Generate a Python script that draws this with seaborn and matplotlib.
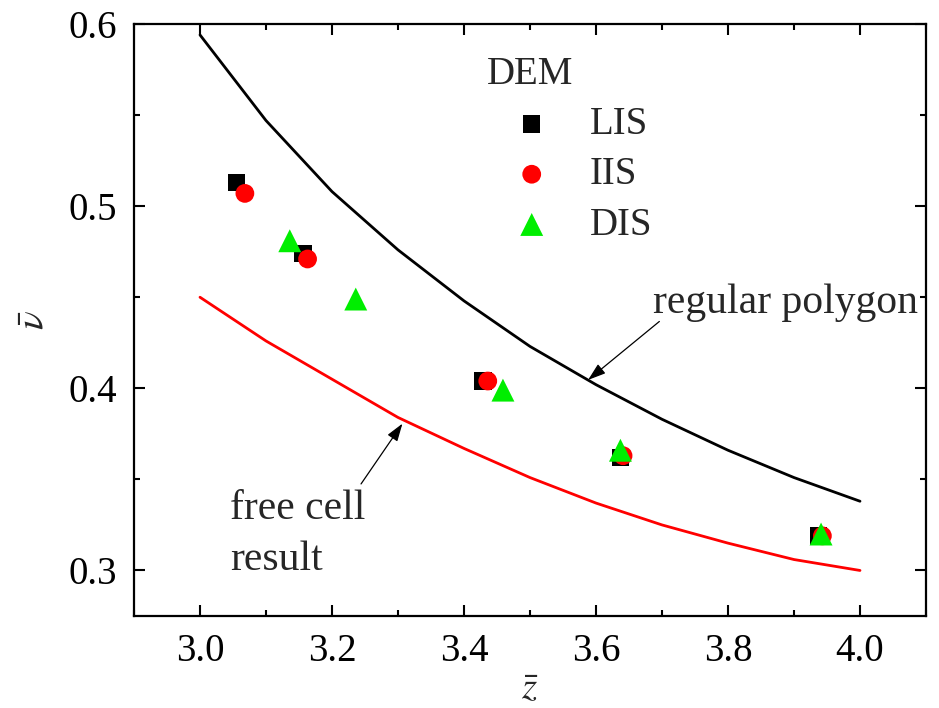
import matplotlib
matplotlib.use("Agg")
import matplotlib.pyplot as plt
from matplotlib.ticker import MultipleLocator
import numpy as np
import pandas as pd
import seaborn as sns

# ---- data ----
z_curve = [3.0, 3.1, 3.2, 3.3, 3.4, 3.5, 3.6, 3.7, 3.8, 3.9, 4.0]
nu_regular = [0.594, 0.547, 0.508, 0.476, 0.448, 0.423, 0.402, 0.383, 0.366, 0.351, 0.338]
nu_free = [0.450, 0.426, 0.405, 0.384, 0.367, 0.351, 0.337, 0.325, 0.315, 0.306, 0.300]

lis_z = [3.055, 3.156, 3.429, 3.637, 3.937]
lis_nu = [0.513, 0.474, 0.404, 0.362, 0.319]
iis_z = [3.068, 3.163, 3.436, 3.641, 3.943]
iis_nu = [0.507, 0.471, 0.404, 0.363, 0.319]
dis_z = [3.136, 3.236, 3.459, 3.637, 3.941]
dis_nu = [0.481, 0.449, 0.399, 0.366, 0.320]

x_ticks = [3.0, 3.2, 3.4, 3.6, 3.8, 4.0]
y_ticks = [0.3, 0.4, 0.5, 0.6]

# ---- style ----
sns.set_theme(style="ticks")
plt.rcParams["font.family"] = ["Liberation Serif", "DejaVu Serif"]
plt.rcParams["mathtext.fontset"] = "stix"
FS = 28

fig = plt.figure(figsize=(9.39, 7.08), dpi=100)
ax = fig.add_axes([134 / 939, 1 - 616 / 708, (926 - 134) / 939, (616 - 24) / 708])

curves = pd.DataFrame({"z": z_curve, "regular": nu_regular, "free": nu_free})
sns.lineplot(data=curves, x="z", y="regular", color="black", lw=2.0, ax=ax)
sns.lineplot(data=curves, x="z", y="free", color="#ff0000", lw=2.0, ax=ax)

sns.scatterplot(x=lis_z, y=lis_nu, marker="s", s=12.5 ** 2, color="black",
                edgecolor="none", linewidth=0, label="LIS", ax=ax, zorder=3)
sns.scatterplot(x=iis_z, y=iis_nu, marker="o", s=13.5 ** 2, color="#ff0000",
                edgecolor="none", linewidth=0, label="IIS", ax=ax, zorder=4)
sns.scatterplot(x=dis_z, y=dis_nu, marker="^", s=16.5 ** 2, color="#00ee00",
                edgecolor="none", linewidth=0, label="DIS", ax=ax, zorder=5)

ax.set_xlim(2.9, 4.1)
ax.set_ylim(0.275, 0.6)
ax.set_xticks(x_ticks)
ax.set_xticklabels([f"{v:.1f}" for v in x_ticks])
ax.set_yticks(y_ticks)
ax.set_yticklabels([f"{v:.1f}" for v in y_ticks])
ax.xaxis.set_minor_locator(MultipleLocator(0.1))
ax.yaxis.set_minor_locator(MultipleLocator(0.05))
ax.tick_params(which="both", direction="in", top=True, right=True, width=1.5,
               colors="black")
ax.tick_params(which="major", length=8, labelsize=FS, pad=12)
ax.tick_params(which="minor", length=4.5)
for sp in ax.spines.values():
    sp.set_linewidth(1.6)
    sp.set_color("black")

ax.set_xlabel(r"$\bar{z}$", fontsize=FS, labelpad=1)
ax.set_ylabel(r"$\bar{\nu}$", fontsize=FS, labelpad=12)

leg = ax.legend(title="DEM", frameon=False, fontsize=FS, title_fontsize=FS,
                alignment="left", loc="upper left",
                bbox_to_anchor=(487 / 939, 1 - 56 / 708),
                bbox_transform=fig.transFigure,
                handlelength=2.3, handletextpad=0.35, borderpad=0,
                labelspacing=0.34, borderaxespad=0)

arrow = dict(arrowstyle="-|>,head_length=0.6,head_width=0.2", lw=0.9,
             color="black", mutation_scale=18, shrinkA=0, shrinkB=0)
ax.annotate("", xy=(3.588, 0.4046), xytext=(3.696, 0.4367), arrowprops=arrow)
ax.annotate("", xy=(3.3067, 0.3806), xytext=(3.244, 0.3475), arrowprops=arrow)
FA = 30
ax.text(3.686, 0.4411, "regular polygon", fontsize=FA, va="baseline", ha="left")
ax.text(3.045, 0.3282, "free cell", fontsize=FA, va="baseline", ha="left")
ax.text(3.045, 0.300, "result", fontsize=FA, va="baseline", ha="left")

fig.savefig("out.png", dpi=100)
